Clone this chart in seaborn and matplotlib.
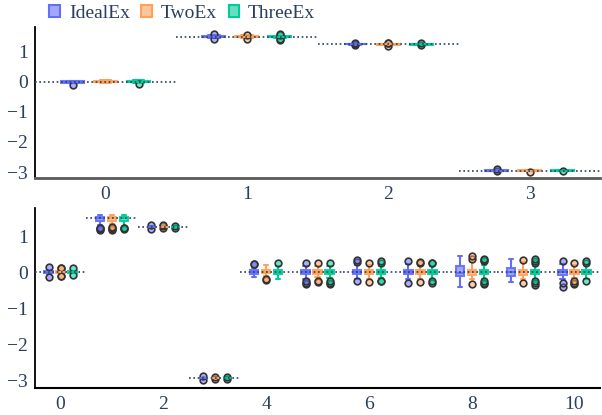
"""
Box plots of estimates for three estimators against their true values
"""

import matplotlib
matplotlib.use('Agg')
import matplotlib.pyplot as plt
import matplotlib.colors as mcolors
from matplotlib.patches import Patch
import pandas as pd
import seaborn as sns

series = ['IdealEx', 'TwoEx', 'ThreeEx']
colors = ['#636efa', '#FFA15A', '#00CC96']
text_color = '#2a3f5f'

# true parameter values (dotted reference lines)
top_true = [0, 1.5, 1.25, -2.95]
bottom_true = [0, 1.5, 1.25, -2.95, 0, 0, 0, 0, 0, 0, 0]

y_ticks = [-3, -2, -1, 0, 1]
bottom_xticks = [0, 2, 4, 6, 8, 10]

# top panel samples, one list per category
top_ideal = [
    [-0.09, -0.03, -0.025, -0.02, -0.01, -0.005, 0.0, 0.005, 0.01, 0.02, 0.025, 0.03, 0.04],
    [1.42, 1.47, 1.48, 1.49, 1.495, 1.5, 1.5, 1.505, 1.51, 1.52, 1.53, 1.56, 1.58],
    [1.22, 1.24, 1.245, 1.248, 1.25, 1.25, 1.25, 1.25, 1.252, 1.255, 1.26, 1.27, 1.28],
    [-2.98, -2.965, -2.96, -2.955, -2.952, -2.95, -2.95, -2.948, -2.945, -2.94, -2.935, -2.93, -2.91],
]
top_two = [
    [-0.04, -0.03, -0.02, -0.015, -0.01, -0.005, 0.0, 0.005, 0.01, 0.015, 0.02, 0.03, 0.06],
    [1.43, 1.46, 1.48, 1.49, 1.495, 1.5, 1.5, 1.505, 1.51, 1.515, 1.53, 1.55, 1.57],
    [1.21, 1.235, 1.24, 1.245, 1.248, 1.25, 1.25, 1.252, 1.255, 1.258, 1.262, 1.28, 1.3],
    [-2.99, -2.97, -2.96, -2.955, -2.952, -2.95, -2.95, -2.948, -2.945, -2.94, -2.935, -2.93, -2.92],
]
top_three = [
    [-0.07, -0.03, -0.02, -0.015, -0.01, -0.005, 0.0, 0.005, 0.01, 0.015, 0.02, 0.03, 0.05],
    [1.41, 1.44, 1.47, 1.49, 1.495, 1.5, 1.5, 1.505, 1.51, 1.515, 1.53, 1.56, 1.59],
    [1.22, 1.235, 1.24, 1.244, 1.247, 1.25, 1.25, 1.252, 1.255, 1.258, 1.265, 1.27, 1.29],
    [-2.98, -2.965, -2.96, -2.955, -2.952, -2.95, -2.95, -2.948, -2.945, -2.94, -2.935, -2.93, -2.92],
]

# bottom panel samples, one list per category
bottom_ideal = [
    [-0.13, -0.05, -0.04, -0.03, -0.02, -0.01, 0.0, 0.01, 0.02, 0.03, 0.04, 0.05, 0.14],
    [1.17, 1.19, 1.21, 1.23, 1.3, 1.42, 1.44, 1.45, 1.47, 1.48, 1.49, 1.5, 1.5, 1.51, 1.52,
     1.53, 1.54, 1.55, 1.56, 1.57, 1.58],
    [1.2, 1.23, 1.24, 1.245, 1.248, 1.25, 1.25, 1.252, 1.255, 1.26, 1.26, 1.27, 1.31],
    [-2.99, -2.97, -2.96, -2.955, -2.952, -2.95, -2.95, -2.948, -2.945, -2.94, -2.935, -2.93, -2.9],
    [-0.15, -0.11, -0.07, -0.05, -0.03, -0.01, 0.0, 0.02, 0.03, 0.05, 0.12, 0.21, 0.23],
    [-0.32, -0.3, -0.26, -0.18, -0.06, -0.05, -0.03, -0.01, 0.0, 0.01, 0.03, 0.05, 0.06, 0.09, 0.13, 0.18, 0.26],
    [-0.26, -0.2, -0.14, -0.09, -0.06, -0.04, -0.03, -0.01, 0.0, 0.02, 0.03, 0.05, 0.06, 0.1, 0.2, 0.28, 0.34],
    [-0.3, -0.2, -0.13, -0.09, -0.06, -0.04, -0.02, -0.01, 0.0, 0.01, 0.03, 0.04, 0.06, 0.1, 0.15, 0.21, 0.32],
    [-0.42, -0.33, -0.24, -0.17, -0.12, -0.09, -0.07, -0.05, -0.03, 0.02, 0.07, 0.12, 0.16, 0.24, 0.33, 0.4, 0.44],
    [-0.28, -0.22, -0.17, -0.13, -0.1, -0.07, -0.04, -0.02, 0.0, 0.03, 0.06, 0.09, 0.12, 0.17, 0.22, 0.29, 0.35],
    [-0.42, -0.3, -0.2, -0.12, -0.07, -0.05, -0.03, -0.01, 0.0, 0.02, 0.03, 0.05, 0.07, 0.11, 0.16, 0.23, 0.32],
]
bottom_two = [
    [-0.11, -0.1, -0.04, -0.02, -0.015, -0.01, 0.0, 0.01, 0.015, 0.02, 0.04, 0.1, 0.11],
    [1.18, 1.2, 1.22, 1.25, 1.32, 1.43, 1.44, 1.46, 1.47, 1.48, 1.49, 1.5, 1.5, 1.51, 1.52,
     1.53, 1.54, 1.55, 1.56, 1.57, 1.58],
    [1.22, 1.235, 1.24, 1.245, 1.248, 1.25, 1.25, 1.252, 1.255, 1.258, 1.262, 1.28, 1.3],
    [-2.98, -2.97, -2.96, -2.955, -2.952, -2.95, -2.95, -2.948, -2.945, -2.94, -2.935, -2.93, -2.91],
    [-0.21, -0.2, -0.12, -0.04, -0.03, -0.01, 0.0, 0.02, 0.04, 0.06, 0.08, 0.14, 0.2],
    [-0.27, -0.25, -0.15, -0.1, -0.06, -0.04, -0.03, -0.01, 0.0, 0.02, 0.03, 0.05, 0.06, 0.08, 0.12, 0.17, 0.25],
    [-0.27, -0.18, -0.12, -0.09, -0.06, -0.04, -0.02, -0.01, 0.0, 0.01, 0.03, 0.05, 0.06, 0.09, 0.14, 0.19, 0.26],
    [-0.28, -0.19, -0.13, -0.08, -0.06, -0.04, -0.03, -0.01, 0.0, 0.02, 0.03, 0.05, 0.06, 0.1, 0.18, 0.25, 0.27],
    [-0.32, -0.2, -0.14, -0.1, -0.07, -0.05, -0.03, -0.01, 0.0, 0.02, 0.03, 0.05, 0.07, 0.12, 0.27, 0.37, 0.44],
    [-0.3, -0.2, -0.14, -0.1, -0.07, -0.05, -0.03, -0.01, 0.0, 0.02, 0.03, 0.05, 0.07, 0.11, 0.18, 0.27, 0.34],
    [-0.34, -0.3, -0.25, -0.16, -0.06, -0.04, -0.02, -0.01, 0.0, 0.01, 0.03, 0.05, 0.06, 0.09, 0.14, 0.2, 0.26],
]
bottom_three = [
    [-0.09, -0.04, -0.03, -0.02, -0.01, -0.005, 0.0, 0.005, 0.01, 0.02, 0.03, 0.04, 0.1],
    [1.19, 1.21, 1.23, 1.26, 1.33, 1.42, 1.44, 1.45, 1.47, 1.48, 1.49, 1.5, 1.5, 1.51, 1.52,
     1.53, 1.54, 1.55, 1.56, 1.57, 1.59],
    [1.21, 1.235, 1.24, 1.244, 1.247, 1.25, 1.25, 1.252, 1.255, 1.258, 1.265, 1.27, 1.29],
    [-2.98, -2.965, -2.96, -2.955, -2.952, -2.95, -2.95, -2.948, -2.945, -2.94, -2.935, -2.93, -2.91],
    [-0.18, -0.12, -0.08, -0.06, -0.04, -0.02, 0.0, 0.02, 0.04, 0.06, 0.09, 0.16, 0.26],
    [-0.32, -0.3, -0.25, -0.17, -0.06, -0.04, -0.02, -0.01, 0.0, 0.02, 0.03, 0.05, 0.06, 0.08, 0.12, 0.18, 0.26],
    [-0.26, -0.25, -0.17, -0.1, -0.06, -0.04, -0.02, -0.01, 0.0, 0.02, 0.03, 0.05, 0.06, 0.09, 0.17, 0.26, 0.3],
    [-0.3, -0.25, -0.18, -0.1, -0.06, -0.05, -0.03, -0.01, 0.0, 0.01, 0.03, 0.04, 0.06, 0.1, 0.17, 0.25, 0.26],
    [-0.34, -0.3, -0.26, -0.19, -0.06, -0.04, -0.02, -0.01, 0.0, 0.02, 0.03, 0.05, 0.06, 0.2, 0.3, 0.33, 0.37],
    [-0.35, -0.3, -0.25, -0.18, -0.06, -0.04, -0.03, -0.01, 0.0, 0.02, 0.03, 0.05, 0.06, 0.18, 0.25, 0.3, 0.35],
    [-0.26, -0.19, -0.13, -0.09, -0.06, -0.04, -0.02, -0.01, 0.0, 0.02, 0.03, 0.05, 0.06, 0.1, 0.2, 0.26, 0.32],
]


def to_long(ideal, two, three):
    """Stack the per-category lists into a long table"""
    rows = []
    for name, boxes in zip(series, [ideal, two, three]):
        for cat, vals in enumerate(boxes):
            for v in vals:
                rows.append((cat, name, v))
    return pd.DataFrame(rows, columns=['cat', 'series', 'value'])


def draw_panel(ax, df, true_vals, ylim):
    n = len(true_vals)
    sns.boxplot(data=df, x='cat', y='value', hue='series', hue_order=series,
                order=list(range(n)), palette=colors, width=0.7, gap=0.3,
                linewidth=1.5, whis=1.5, legend=False, ax=ax,
                flierprops=dict(marker='o', markersize=4.8,
                                markeredgecolor='#333333', markeredgewidth=1.2))

    # plotly-like look: translucent fill, coloured outline
    for cont, col in zip(ax.containers, colors):
        for b in getattr(cont, 'boxes', []):
            b.set_facecolor(mcolors.to_rgba(col, 0.6))
            b.set_edgecolor(mcolors.to_rgba(col, 0.9))
        for ln in (list(getattr(cont, 'whiskers', [])) + list(getattr(cont, 'caps', []))
                   + list(getattr(cont, 'medians', []))):
            ln.set_color(col)
        for f in getattr(cont, 'fliers', []):
            f.set_markerfacecolor(mcolors.to_rgba(col, 0.55))
            f.set_markeredgecolor('#333333')

    # true value reference lines
    for i, t in enumerate(true_vals):
        ax.hlines(t, i - 0.5, i + 0.5, colors=text_color, linestyles=(0, (1, 1.6)),
                  linewidth=1.2, zorder=6)

    ax.set_xlim(-0.5, n - 0.5)
    ax.set_ylim(*ylim)
    ax.set_yticks(y_ticks)
    ax.set_xlabel('')
    ax.set_ylabel('')
    ax.tick_params(length=0, labelsize=14, labelcolor=text_color)
    ax.tick_params(axis='x', pad=6)
    ax.tick_params(axis='y', pad=5)
    for side in ['top', 'right']:
        ax.spines[side].set_visible(False)


sns.set_style('white')
plt.rcParams['font.family'] = ['Liberation Serif', 'DejaVu Serif']

fig = plt.figure(figsize=(6.02, 4.15), dpi=100)
ax_top = fig.add_axes([0.058, 0.571, 0.939, 0.364])
ax_bot = fig.add_axes([0.058, 0.065, 0.939, 0.434])

draw_panel(ax_top, to_long(top_ideal, top_two, top_three), top_true, (-3.2, 1.83))
draw_panel(ax_bot, to_long(bottom_ideal, bottom_two, bottom_three), bottom_true, (-3.22, 1.78))

ax_bot.set_xticks(bottom_xticks)
ax_bot.set_xticklabels([str(t) for t in bottom_xticks])

ax_top.spines['left'].set_color('black')
ax_top.spines['left'].set_linewidth(1.3)
ax_top.spines['bottom'].set_color('#5a5a5a')
ax_top.spines['bottom'].set_linewidth(2)
ax_bot.spines['left'].set_color('black')
ax_bot.spines['left'].set_linewidth(1.3)
ax_bot.spines['bottom'].set_color('black')
ax_bot.spines['bottom'].set_linewidth(1.5)

handles = [Patch(facecolor=mcolors.to_rgba(c, 0.6), edgecolor=c, linewidth=1.5, label=s)
           for s, c in zip(series, colors)]
fig.legend(handles=handles, loc='upper left', bbox_to_anchor=(0.053, 1.03), ncol=3,
           frameon=False, fontsize=14, handlelength=0.55, handleheight=0.55,
           handletextpad=0.45, columnspacing=0.6, labelcolor=text_color)

fig.savefig('out.png', dpi=100)
plt.close(fig)
